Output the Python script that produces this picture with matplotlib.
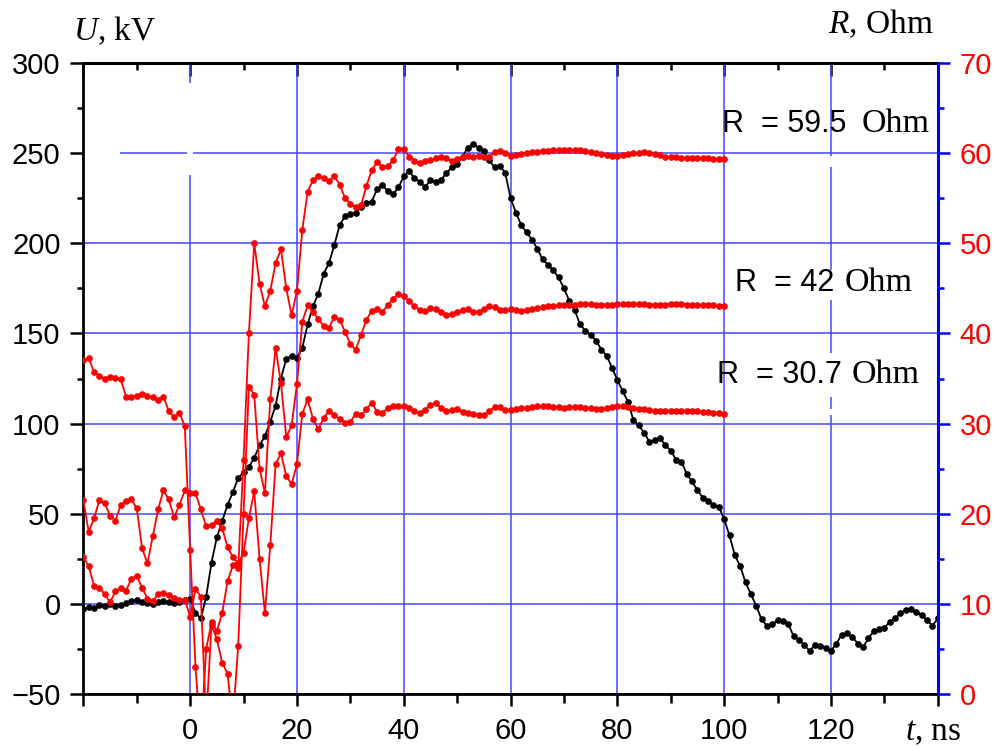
import numpy as np
import matplotlib.pyplot as plt
from matplotlib.patches import Rectangle

# time grids, ns
t_u = np.arange(-20, 141)
t_r = np.arange(-20, 101)

# voltage, kV
u_kv = [
    -2.5, -1.8, -2.0, -0.8, -1.0, 0.0, -1.2, -0.5, 0.5, 1.5,
    2.5, 1.2, 0.5, 0.0, 1.0, 1.5, 1.0, 0.6, 1.2, 2.0,
    3.0, -5.0, -8.0, 4.0, 23.0, 37.0, 46.0, 55.0, 62.0, 70.0,
    73.0, 76.0, 81.0, 88.0, 93.0, 101.0, 110.0, 125.0, 136.0, 137.5,
    136.5, 142.0, 155.0, 165.0, 172.0, 183.0, 189.0, 199.0, 210.0, 215.0,
    216.0, 217.0, 220.0, 222.0, 223.0, 230.0, 232.0, 229.0, 227.0, 231.0,
    237.0, 240.0, 236.0, 234.0, 231.0, 235.0, 234.0, 235.0, 239.0, 242.0,
    244.0, 248.0, 253.0, 255.0, 253.0, 251.0, 246.0, 242.0, 243.0, 239.0,
    225.0, 217.0, 210.0, 206.0, 202.0, 197.0, 191.0, 188.0, 185.0, 181.0,
    175.0, 168.0, 163.0, 155.0, 151.5, 149.0, 146.0, 141.0, 137.5, 131.0,
    124.0, 118.0, 112.0, 102.0, 99.0, 95.0, 90.0, 91.0, 92.0, 88.0,
    85.0, 80.0, 79.0, 72.0, 68.0, 63.0, 59.0, 57.0, 55.0, 54.0,
    47.0, 38.0, 27.0, 21.0, 12.0, 5.5, -1.0, -8.5, -12.0, -11.3,
    -9.0, -9.5, -11.0, -17.8, -19.8, -22.5, -26.0, -22.7, -23.0, -24.2,
    -26.0, -22.0, -17.0, -16.0, -18.0, -22.0, -24.0, -19.0, -15.0, -14.0,
    -13.0, -10.0, -8.0, -5.0, -3.5, -3.0, -4.5, -6.0, -9.0, -12.0,
    -8.0,
]

# load resistance, Ohm
r_top = [
    37.0, 37.3, 35.7, 35.3, 35.0, 35.2, 35.1, 34.9, 33.0, 32.9,
    33.1, 33.3, 33.1, 32.9, 32.6, 33.0, 31.4, 30.7, 31.2, 29.7,
    16.0, 3.0, -5.0, 5.0, 8.0, 7.0, 9.0, 12.5, 14.3, 14.0,
    26.0, 40.0, 50.0, 45.5, 43.0, 44.7, 47.8, 49.3, 45.0, 42.0,
    44.7, 51.5, 55.7, 57.0, 57.4, 57.2, 56.9, 57.4, 56.5, 55.0,
    54.3, 54.0, 54.2, 56.3, 58.1, 59.0, 58.4, 58.5, 59.2, 60.4,
    60.4, 59.6, 59.1, 58.9, 59.1, 59.2, 59.4, 59.6, 59.4, 59.1,
    59.3, 59.6, 59.7, 59.6, 59.7, 59.5, 59.5, 60.1, 60.2, 60.0,
    59.7, 59.8, 59.9, 60.0, 60.1, 60.1, 60.2, 60.2, 60.3, 60.3,
    60.3, 60.3, 60.3, 60.3, 60.2, 60.1, 60.0, 59.9, 59.8, 59.7,
    59.7, 59.8, 59.9, 60.0, 60.0, 60.1, 60.0, 59.9, 59.8, 59.6,
    59.5, 59.5, 59.4, 59.4, 59.4, 59.4, 59.4, 59.4, 59.3, 59.3,
    59.3,
]

r_mid = [
    15.2, 14.2, 12.0, 11.8, 11.1, 10.2, 11.4, 11.8, 11.5, 12.8,
    13.1, 11.8, 10.6, 10.3, 11.1, 11.2, 11.0, 10.7, 10.4, 10.5,
    8.6, 11.7, 10.8, -3.0, 7.7, 6.1, 3.5, 2.3, -3.0, 5.4,
    20.0, 34.1, 33.2, 25.0, 22.3, 32.7, 38.4, 34.5, 28.5, 29.8,
    34.4, 41.3, 43.1, 42.4, 41.6, 40.8, 40.6, 41.8, 41.5, 40.2,
    38.8, 38.2, 39.8, 41.5, 42.5, 42.7, 42.4, 43.1, 43.8, 44.4,
    44.1, 43.6, 43.0, 42.6, 42.5, 42.8, 42.7, 42.4, 42.0, 42.1,
    42.4, 42.6, 42.7, 42.4, 42.4, 42.7, 43.0, 42.9, 42.6, 42.6,
    42.7, 42.6, 42.5, 42.6, 42.7, 42.8, 42.9, 43.0, 43.0, 43.1,
    43.1, 43.2, 43.2, 43.3, 43.3, 43.3, 43.2, 43.2, 43.2, 43.2,
    43.3, 43.3, 43.3, 43.3, 43.3, 43.3, 43.2, 43.2, 43.2, 43.2,
    43.3, 43.3, 43.3, 43.2, 43.2, 43.2, 43.1, 43.1, 43.1, 43.0,
    43.0,
]

r_low = [
    21.5, 18.0, 19.5, 21.5, 21.2, 19.8, 19.2, 21.0, 21.4, 21.6,
    20.6, 16.2, 14.5, 17.5, 20.5, 22.6, 21.6, 19.6, 21.0, 22.6,
    22.3, 22.3, 20.5, 18.6, 18.8, 19.2, 18.4, 16.3, 15.2, 14.5,
    15.7, 19.5, 22.5, 15.0, 9.0, 16.5, 25.5, 26.7, 24.2, 23.3,
    25.5, 31.1, 32.7, 30.5, 29.4, 30.6, 31.4, 31.0, 30.5, 30.1,
    30.2, 31.1, 30.9, 31.6, 32.3, 31.3, 31.2, 31.7, 31.9, 32.0,
    31.9, 31.7, 31.4, 31.2, 31.5, 32.1, 32.3, 31.7, 31.4, 31.5,
    31.6, 31.3, 31.2, 31.1, 30.9, 30.9, 31.4, 31.8, 31.8, 31.5,
    31.5, 31.6, 31.7, 31.7, 31.8, 31.9, 31.9, 31.9, 31.8, 31.8,
    31.7, 31.8, 31.8, 31.8, 31.7, 31.7, 31.6, 31.6, 31.7, 31.8,
    31.9, 31.9, 31.8, 31.7, 31.6, 31.6, 31.5, 31.4, 31.4, 31.4,
    31.4, 31.4, 31.4, 31.4, 31.4, 31.4, 31.3, 31.3, 31.2, 31.2,
    31.1,
]

r_labels = ['59.5', '42', '30.7']

plt.rcParams['font.family'] = 'Liberation Sans'
plt.rcParams['mathtext.fontset'] = 'custom'
plt.rcParams['mathtext.rm'] = 'Liberation Serif'
plt.rcParams['mathtext.it'] = 'Liberation Serif:italic'

fig = plt.figure(figsize=(9.97, 7.47), dpi=100)
ax = fig.add_axes([0.0836, 0.0706, 0.857, 0.8454])
ax2 = ax.twinx()

ax.grid(True, color='#4646ff', lw=1.1)
ax.set_axisbelow(True)

# blank spots in the grid (t, U, width, height)
for x0, y0, w, h in [(-20, 247, 6.9, 6), (-0.5, 238, 1.0, 51),
                     (119.5, 242, 1.0, 6.3), (119.5, 168.5, 1.0, 16.5),
                     (119.5, 114.7, 1.0, 24.3), (119.5, 105, 1.0, 3)]:
    ax.add_patch(Rectangle((x0, y0), w, h, facecolor='white',
                           edgecolor='none', zorder=1))

ax.plot(t_u, u_kv, '-o', color='black', lw=1.3, ms=3.8, zorder=3)
for r in (r_top, r_mid, r_low):
    ax2.plot(t_r, r, '-o', color='red', lw=1.3, ms=3.8)

ax.set_xlim(-20, 140)
ax.set_ylim(-50, 300)
ax2.set_ylim(0, 70)

# bottom axis
ax.set_xticks(np.arange(-20, 141, 20))
ax.set_xticklabels(['', '0', '20', '40', '60', '80', '100', '120', ''])
ax.set_xticks(np.arange(-10, 140, 20), minor=True)
ax.tick_params(axis='x', which='major', direction='out', length=8.6,
               width=1.8, labelsize=21, pad=7.5)
ax.tick_params(axis='x', which='minor', direction='out', length=6.5,
               width=1.8)

# left axis
ax.set_yticks(np.arange(-50, 301, 50))
ax.set_yticks(np.arange(-25, 300, 50), minor=True)
ax.tick_params(axis='y', which='major', direction='out', length=9.4,
               width=1.8, labelsize=21, pad=7)
ax.tick_params(axis='y', which='minor', direction='out', length=4.3,
               width=1.8)

# top axis: ticks only, pointing inside
top = ax.secondary_xaxis('top')
top.set_xticks(np.arange(-20, 141, 20))
top.set_xticks(np.arange(-10, 140, 20), minor=True)
top.tick_params(which='major', direction='in', length=9, width=1.8,
                labeltop=False)
top.tick_params(which='minor', direction='in', length=5, width=1.8)
top.spines['top'].set_linewidth(2.0)

for side in ('left', 'bottom', 'top'):
    ax.spines[side].set_linewidth(2.0)
ax.spines['right'].set_visible(False)

# right axis, blue
for side in ('left', 'bottom', 'top'):
    ax2.spines[side].set_visible(False)
ax2.spines['right'].set_color('blue')
ax2.spines['right'].set_linewidth(2.2)
ax2.set_yticks(np.arange(0, 71, 10))
ax2.set_yticks(np.arange(5, 70, 10), minor=True)
ax2.tick_params(axis='y', which='major', direction='out', length=8.6,
                width=1.8, colors='blue', labelcolor='red', labelsize=21,
                pad=7)
ax2.tick_params(axis='y', which='minor', direction='out', length=4.3,
                width=1.8, colors='blue')

# axis captions
fig.text(0.0735, 0.9465, r'$U$, kV', family='Liberation Serif', size=24)
fig.text(0.8308, 0.9554, r'$R$, Ohm', family='Liberation Serif', size=24)
fig.text(0.9077, 0.0094, r'$t$, ns', family='Liberation Serif', size=24)

# resistance annotations
label_xy = [(0.7242, 0.8237, 0.8643), (0.7372, 0.6108, 0.8475),
            (0.7195, 0.4868, 0.8543)]
for lab, (x0, y0, x1) in zip(r_labels, label_xy):
    fig.text(x0, y0, 'R  = ' + lab, size=22, va='baseline')
    fig.text(x1, y0, 'Ohm', family='Liberation Serif', size=24.5,
             va='baseline')

fig.savefig('out.png', dpi=100)
